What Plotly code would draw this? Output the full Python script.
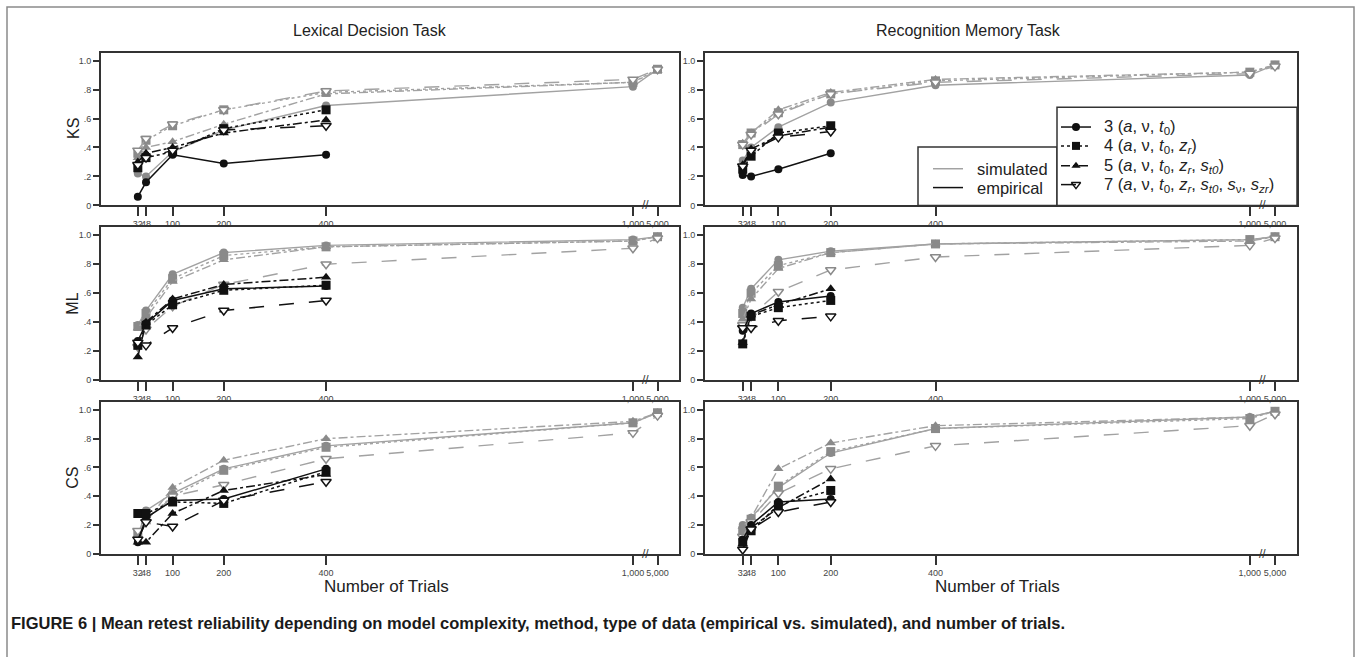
import plotly.graph_objects as go

W, H = 1357, 662

# ---------------- data ----------------
trials = [32, 48, 100, 200, 400, 1000, 5000]
trial_labels = ["32", "48", "100", "200", "400", "1,000", "5,000"]
# broken x axis: 5,000 is drawn just to the right of 1,000
axis_pos = [32, 48, 100, 200, 400, 1000, 1048]

models = ["3", "4", "5", "7"]
model_labels = [
    "3 (<i>a</i>, ν, <i>t</i><sub>0</sub>)",
    "4 (<i>a</i>, ν, <i>t</i><sub>0</sub>, <i>z<sub>r</sub></i>)",
    "5 (<i>a</i>, ν, <i>t</i><sub>0</sub>, <i>z<sub>r</sub></i>, <i>s<sub>t0</sub></i>)",
    "7 (<i>a</i>, ν, <i>t</i><sub>0</sub>, <i>z<sub>r</sub></i>, <i>s<sub>t0</sub></i>, <i>s</i><sub>ν</sub>, <i>s<sub>zr</sub></i>)",
]
methods = ["KS", "ML", "CS"]
tasks = ["Lexical Decision Task", "Recognition Memory Task"]

# Lexical decision task (empirical: 32..400 trials; simulated: 32..5000)
ldt_ks_sim = [[0.22, 0.20, 0.37, 0.52, 0.69, 0.82, 0.94],
              [0.36, 0.45, 0.55, 0.66, 0.78, 0.85, 0.94],
              [0.33, 0.40, 0.44, 0.56, 0.77, 0.85, 0.93],
              [0.38, 0.46, 0.56, 0.66, 0.79, 0.87, 0.94]]
ldt_ks_emp = [[0.06, 0.16, 0.35, 0.29, 0.35],
              [0.26, 0.33, 0.37, 0.53, 0.66],
              [0.30, 0.36, 0.40, 0.50, 0.59],
              [0.28, 0.33, 0.38, 0.52, 0.55]]
ldt_ml_sim = [[0.38, 0.48, 0.73, 0.88, 0.93, 0.97, 0.99],
              [0.37, 0.46, 0.70, 0.86, 0.92, 0.96, 0.99],
              [0.36, 0.43, 0.68, 0.83, 0.92, 0.96, 0.99],
              [0.23, 0.35, 0.51, 0.66, 0.80, 0.91, 0.98]]
ldt_ml_emp = [[0.27, 0.39, 0.55, 0.63, 0.65],
              [0.24, 0.38, 0.52, 0.62, 0.655],
              [0.16, 0.40, 0.56, 0.66, 0.71],
              [0.26, 0.24, 0.36, 0.48, 0.55]]
ldt_cs_sim = [[0.12, 0.30, 0.42, 0.59, 0.75, 0.91, 0.98],
              [0.14, 0.24, 0.40, 0.58, 0.74, 0.91, 0.98],
              [0.13, 0.22, 0.46, 0.65, 0.80, 0.92, 0.98],
              [0.16, 0.22, 0.40, 0.48, 0.66, 0.84, 0.96]]
ldt_cs_emp = [[0.08, 0.25, 0.37, 0.38, 0.59],
              [0.28, 0.28, 0.36, 0.35, 0.57],
              [0.08, 0.08, 0.28, 0.44, 0.55],
              [0.10, 0.22, 0.19, 0.37, 0.50]]

# Recognition memory task (empirical: 32..200 trials)
rmt_ks_sim = [[0.31, 0.40, 0.54, 0.71, 0.83, 0.90, 0.97],
              [0.42, 0.50, 0.64, 0.77, 0.86, 0.92, 0.97],
              [0.43, 0.50, 0.66, 0.78, 0.87, 0.92, 0.97],
              [0.42, 0.49, 0.63, 0.77, 0.85, 0.91, 0.96]]
rmt_ks_emp = [[0.21, 0.20, 0.25, 0.36],
              [0.25, 0.34, 0.50, 0.55],
              [0.28, 0.39, 0.48, 0.54],
              [0.27, 0.38, 0.47, 0.51]]
rmt_ml_sim = [[0.50, 0.63, 0.83, 0.89, 0.94, 0.97, 0.99],
              [0.46, 0.60, 0.79, 0.88, 0.94, 0.97, 0.99],
              [0.42, 0.56, 0.77, 0.88, 0.94, 0.96, 0.99],
              [0.38, 0.44, 0.61, 0.76, 0.85, 0.93, 0.98]]
rmt_ml_emp = [[0.34, 0.46, 0.54, 0.58],
              [0.25, 0.44, 0.50, 0.55],
              [0.26, 0.45, 0.52, 0.63],
              [0.36, 0.36, 0.41, 0.44]]
rmt_cs_sim = [[0.20, 0.25, 0.46, 0.70, 0.87, 0.95, 0.99],
              [0.16, 0.24, 0.47, 0.71, 0.87, 0.94, 0.99],
              [0.19, 0.25, 0.59, 0.77, 0.89, 0.95, 0.99],
              [0.12, 0.22, 0.42, 0.59, 0.75, 0.89, 0.97]]
rmt_cs_emp = [[0.10, 0.20, 0.36, 0.38],
              [0.08, 0.16, 0.34, 0.44],
              [0.07, 0.18, 0.32, 0.52],
              [0.03, 0.17, 0.29, 0.36]]

y_ticks = [0, 0.2, 0.4, 0.6, 0.8, 1.0]
y_tick_labels = ["0", ".2", ".4", ".6", ".8", "1.0"]

panels = [
    [(ldt_ks_sim, ldt_ks_emp), (rmt_ks_sim, rmt_ks_emp)],
    [(ldt_ml_sim, ldt_ml_emp), (rmt_ml_sim, rmt_ml_emp)],
    [(ldt_cs_sim, ldt_cs_emp), (rmt_cs_sim, rmt_cs_emp)],
]

# ---------------- styles / geometry ----------------
FONT = "Liberation Sans"
SIM_MARK = "#8a8a8a"
SIM_LINE = "#a2a2a2"
EMP = "#111111"
FRAME = "#333333"
dashes = ["solid", "dot", "dashdot", "longdash"]
symbols = ["circle", "square", "triangle-up", "triangle-down"]

col_px = [(101, 679), (705, 1297)]
row_px = [(53, 207), (229, 383), (405, 558)]
title_cx = [370, 968]


def px(x):
    return x / W


def py(y):
    return 1 - y / H


fig = go.Figure()
layout_axes = {}

for r in range(3):
    for c in range(2):
        i = r * 2 + c + 1
        xa = "x" if i == 1 else f"x{i}"
        ya = "y" if i == 1 else f"y{i}"
        sim, emp = panels[r][c]
        for m in range(4):
            is_open = models[m] == "7"
            fig.add_trace(go.Scatter(
                x=axis_pos, y=sim[m], xaxis=xa, yaxis=ya, mode="lines+markers",
                line=dict(color=SIM_LINE, width=1.4, dash=dashes[m]),
                marker=dict(symbol=symbols[m], size=9 if m != 0 else 8,
                            color="white" if is_open else SIM_MARK,
                            line=dict(color=SIM_MARK, width=1.5 if is_open else 0)),
                cliponaxis=False, showlegend=False, hoverinfo="x+y"))
        for m in range(4):
            is_open = models[m] == "7"
            n = len(emp[m])
            fig.add_trace(go.Scatter(
                x=axis_pos[:n], y=emp[m], xaxis=xa, yaxis=ya, mode="lines+markers",
                line=dict(color=EMP, width=1.5, dash=dashes[m]),
                marker=dict(symbol=symbols[m], size=9 if m != 0 else 8,
                            color="white" if is_open else EMP,
                            line=dict(color=EMP, width=1.5 if is_open else 0)),
                cliponaxis=False, showlegend=False, hoverinfo="x+y"))

        x0, x1 = col_px[c]
        y0, y1 = row_px[r]
        layout_axes["xaxis" if i == 1 else f"xaxis{i}"] = dict(
            domain=[px(x0), px(x1)], anchor=ya, range=[-40, 1090],
            tickmode="array", tickvals=axis_pos, ticktext=trial_labels, tickangle=0,
            ticks="outside", ticklen=9, tickwidth=1.5, tickcolor=FRAME,
            showline=True, linecolor=FRAME, linewidth=2, mirror=True,
            showgrid=False, zeroline=False,
            tickfont=dict(family=FONT, size=9, color="#444"), fixedrange=True)
        layout_axes["yaxis" if i == 1 else f"yaxis{i}"] = dict(
            domain=[py(y1), py(y0)], anchor=xa, range=[0, 1.055],
            tickmode="array", tickvals=y_ticks, ticktext=y_tick_labels,
            ticks="outside", ticklen=6, tickwidth=1.5, tickcolor=FRAME,
            showline=True, linecolor=FRAME, linewidth=2, mirror=True,
            showgrid=False, zeroline=False,
            tickfont=dict(family=FONT, size=9, color="#444"), fixedrange=True)

# overlay axis in pixel units for the hand-drawn legend / frame
layout_axes["xaxis7"] = dict(domain=[0, 1], range=[0, W], visible=False, fixedrange=True, anchor="y7")
layout_axes["yaxis7"] = dict(domain=[0, 1], range=[H, 0], visible=False, fixedrange=True, anchor="x7")

shapes = []
annotations = []

# outer figure frame (open at the bottom)
shapes.append(dict(type="path", xref="x7", yref="y7",
                   path="M 7 680 L 7 7 L 1354 7 L 1354 680",
                   line=dict(color="#8a8a8a", width=1.5)))

# legend boxes (top-right panel)
shapes.append(dict(type="rect", xref="x7", yref="y7", x0=918, y0=148, x1=1057, y1=207,
                   line=dict(color=FRAME, width=1.5), fillcolor="white", layer="below"))
shapes.append(dict(type="rect", xref="x7", yref="y7", x0=1057, y0=108, x1=1297, y1=207,
                   line=dict(color=FRAME, width=1.5), fillcolor="white", layer="below"))
for yy, col, txt in [(170, SIM_LINE, "simulated"), (189, EMP, "empirical")]:
    shapes.append(dict(type="line", xref="x7", yref="y7", x0=933, x1=963, y0=yy, y1=yy,
                       line=dict(color=col, width=1.5), layer="above"))
    annotations.append(dict(xref="x7", yref="y7", x=975, y=yy, text=txt, showarrow=False,
                            xanchor="left", yanchor="middle",
                            font=dict(family=FONT, size=16.5, color="#222")))
leg_rows = [128, 147, 167, 186]
for m in range(4):
    yy = leg_rows[m]
    shapes.append(dict(type="line", xref="x7", yref="y7", x0=1061, x1=1091, y0=yy, y1=yy,
                       line=dict(color=EMP, width=1.5, dash=dashes[m]), layer="above"))
    annotations.append(dict(xref="x7", yref="y7", x=1102, y=yy, text=model_labels[m],
                            showarrow=False, xanchor="left", yanchor="middle",
                            font=dict(family=FONT, size=16.5, color="#222")))
    is_open = models[m] == "7"
    fig.add_trace(go.Scatter(
        x=[1076], y=[yy], xaxis="x7", yaxis="y7", mode="markers",
        marker=dict(symbol=symbols[m], size=8,
                    color="white" if is_open else EMP,
                    line=dict(color=EMP, width=1.5 if is_open else 0)),
        showlegend=False, hoverinfo="skip", cliponaxis=False))

# axis-break marks "//" between 1,000 and 5,000
for r in range(3):
    for c in range(2):
        i = r * 2 + c + 1
        annotations.append(dict(xref="x" if i == 1 else f"x{i}", yref="y" if i == 1 else f"y{i}",
                                x=1024, y=0, text="//", showarrow=False, yshift=0,
                                font=dict(family=FONT, size=12, color=FRAME)))

# task titles and x-axis titles
for c in range(2):
    cx = (col_px[c][0] + col_px[c][1]) / 2
    annotations.append(dict(xref="x7", yref="y7", x=title_cx[c], y=31, text=tasks[c],
                            showarrow=False, font=dict(family=FONT, size=16, color="#222")))
    annotations.append(dict(xref="x7", yref="y7", x=cx - 4, y=591, text="Number of Trials",
                            showarrow=False, font=dict(family=FONT, size=17, color="#222")))
# method labels
for r in range(3):
    cy = (row_px[r][0] + row_px[r][1]) / 2
    annotations.append(dict(xref="x7", yref="y7", x=73, y=cy, text=methods[r], textangle=-90,
                            showarrow=False, font=dict(family=FONT, size=16, color="#222")))

# caption
annotations.append(dict(
    xref="x7", yref="y7", x=9, y=628, xanchor="left", yanchor="middle", showarrow=False,
    text="<b>FIGURE 6 | Mean retest reliability depending on model complexity, method, type of data "
         "(empirical vs. simulated), and number of trials.</b>",
    font=dict(family=FONT, size=16.5, color="#1a1a1a")))

fig.update_layout(
    width=W, height=H, autosize=False,
    margin=dict(l=0, r=0, t=0, b=0, pad=0),
    paper_bgcolor="white", plot_bgcolor="rgba(0,0,0,0)",
    showlegend=False, shapes=shapes, annotations=annotations,
    **layout_axes)

fig.write_html("out.html", config={"displayModeBar": False})
